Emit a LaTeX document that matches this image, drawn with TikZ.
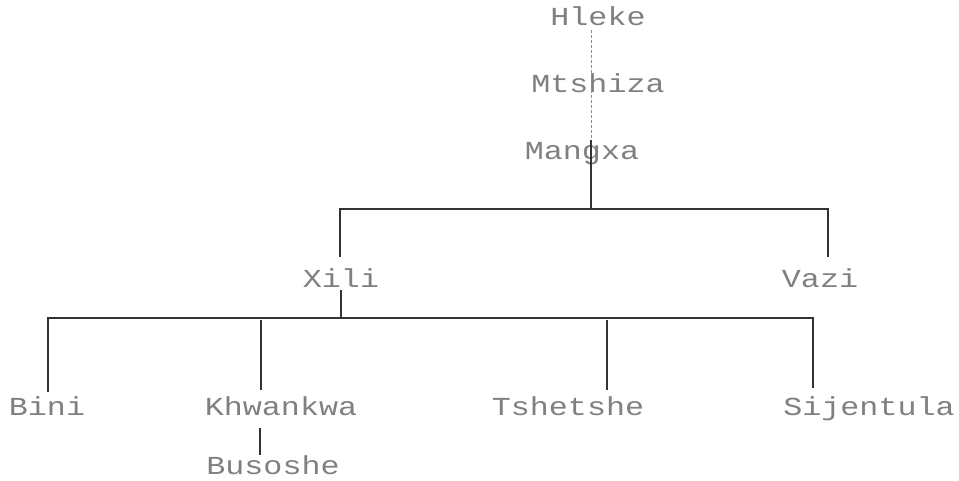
\documentclass[tikz,border=0pt]{standalone}
\usepackage{fontspec}
\newfontfamily\dotfont[FakeStretch=1.22]{Liberation Mono}
\begin{document}
\begin{tikzpicture}[x=1pt,y=-1pt,
  lbl/.style={font=\dotfont\fontsize{26}{26}\selectfont, text=black!50, inner sep=0pt, anchor=base},
  tree/.style={draw=black!80, line width=1.3pt},
  faint/.style={draw=black!45, line width=0.8pt, densely dashed}]
\useasboundingbox (0,0) rectangle (959,480);
% names
\node[lbl] (hleke) at (598,25) {Hleke};
\node[lbl] (mtshiza) at (598,92) {Mtshiza};
\node[lbl] (mangxa) at (582,159) {Mangxa};
\node[lbl] (xili) at (341,287) {Xili};
\node[lbl] (vazi) at (820,287) {Vazi};
\node[lbl] (bini) at (47,415) {Bini};
\node[lbl] (khwankwa) at (281,415) {Khwankwa};
\node[lbl] (tshetshe) at (568,415) {Tshetshe};
\node[lbl] (sijentula) at (869,415) {Sijentula};
\node[lbl] (busoshe) at (273,474) {Busoshe};
% junction coordinates
\coordinate (a0) at (591,30);
\coordinate (a1) at (591,140);
\coordinate (j1) at (591,209);
\coordinate (jx) at (340,209);
\coordinate (jv) at (828,209);
\coordinate (xt) at (340,257);
\coordinate (vt) at (828,257);
\coordinate (xb) at (341,290);
\coordinate (j2) at (341,318);
\coordinate (jb) at (48,318);
\coordinate (js) at (813,318);
\coordinate (bt) at (48,392);
\coordinate (kk) at (261,320);
\coordinate (kt) at (261,390);
\coordinate (tt) at (607,320);
\coordinate (tb) at (607,390);
\coordinate (st) at (813,388);
\coordinate (kb) at (260,428);
\coordinate (bu) at (260,455);
% connectors
\draw[faint] (a0) -- (a1);
\draw[tree] (a1) -- (j1);
\draw[tree] (xt) -- (jx) -- (jv) -- (vt);
\draw[tree] (xb) -- (j2);
\draw[tree] (bt) -- (jb) -- (js) -- (st);
\draw[tree] (kk) -- (kt);
\draw[tree] (tt) -- (tb);
\draw[tree] (kb) -- (bu);
\end{tikzpicture}
\end{document}
